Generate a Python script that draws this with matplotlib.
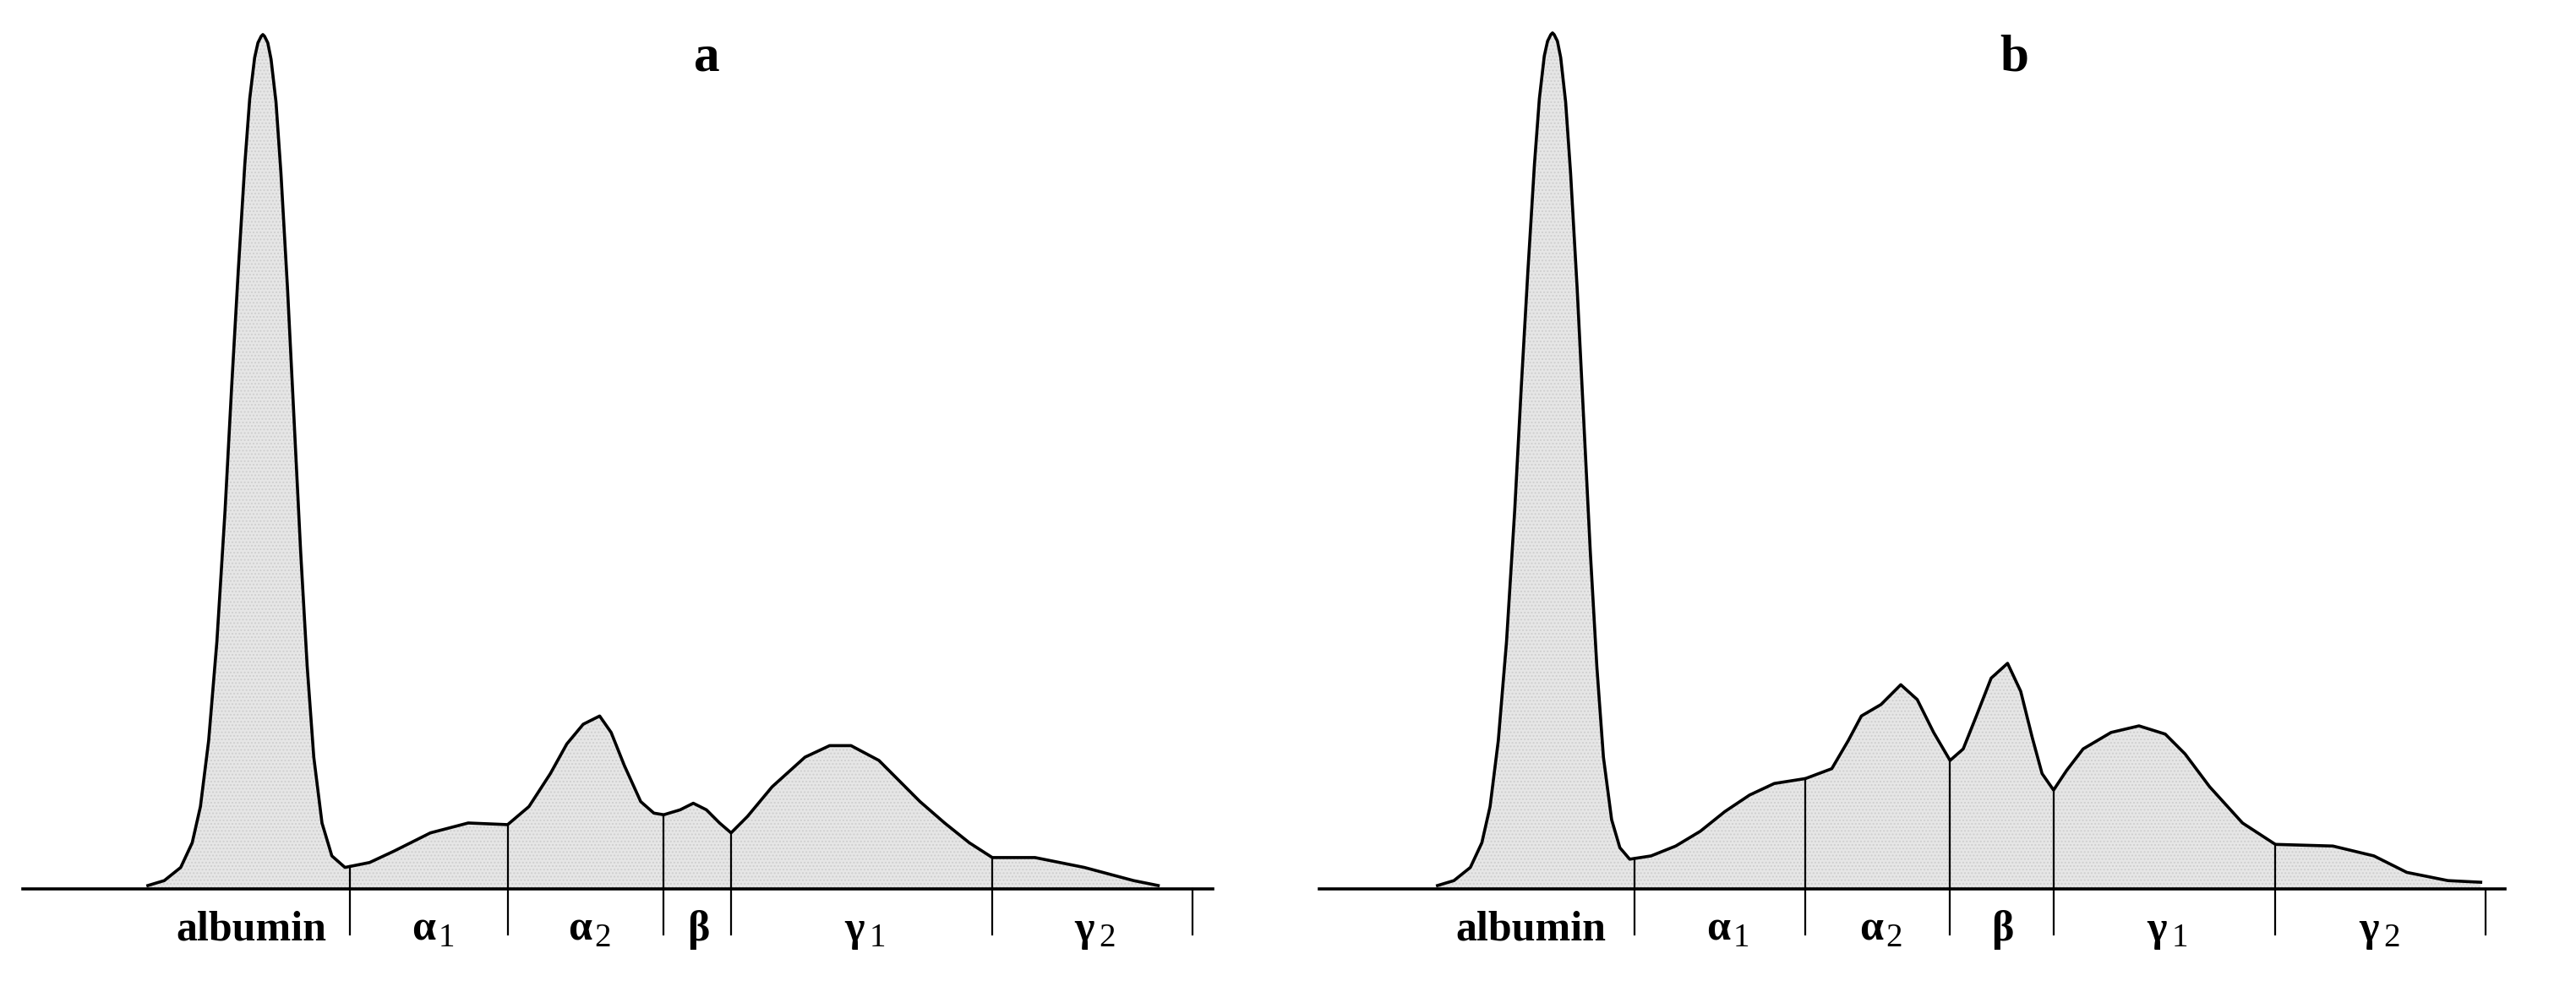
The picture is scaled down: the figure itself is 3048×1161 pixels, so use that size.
import matplotlib.pyplot as plt
import numpy as np

# densitometry traces (x, y in picture pixels, y grows downward)
a_x = [90, 100, 110, 117, 122, 127, 132, 137, 141, 145, 149, 152, 155, 157, 159, 160, 161,
       163, 165, 168, 171, 175, 179, 183, 187, 191, 196, 202, 210,
       225, 240, 262, 285, 309, 322, 335, 345, 355, 365, 372, 380, 390, 398, 404, 414, 422,
       430, 438, 445, 455, 470, 490, 505, 518, 535, 548, 560, 575, 590, 604, 630, 660, 690, 705]
a_y = [538, 535, 527, 512, 490, 450, 390, 310, 235, 165, 100, 60, 35, 26, 22, 21, 22,
       26, 36, 62, 105, 175, 255, 335, 405, 460, 500, 520, 527,
       524, 517, 506, 500, 501, 490, 470, 452, 440, 435, 445, 465, 487, 494, 495, 492, 488,
       492, 500, 506, 496, 478, 460, 453, 453, 462, 475, 487, 500, 512, 521, 521, 527, 535, 538]
b_x = [875, 885, 895, 902, 907, 912, 917, 922, 926, 930, 934, 937, 940, 942, 944, 945, 946,
       948, 950, 953, 956, 960, 964, 968, 972, 976, 981, 986, 992,
       1005, 1020, 1035, 1050, 1065, 1080, 1099, 1115, 1125, 1133, 1145, 1157, 1167, 1177,
       1187, 1195, 1203, 1212, 1222, 1230, 1237, 1243, 1250, 1258, 1268, 1285, 1302, 1318,
       1330, 1345, 1365, 1385, 1420, 1445, 1465, 1490, 1510]
b_y = [538, 535, 527, 512, 490, 450, 390, 310, 235, 165, 100, 60, 34, 25, 21, 20, 21,
       25, 35, 62, 105, 175, 255, 335, 405, 460, 498, 515, 522,
       520, 514, 505, 493, 483, 476, 473, 467, 450, 435, 428, 416, 425, 445,
       462, 455, 435, 412, 403, 420, 448, 470, 480, 468, 455, 445, 441, 446,
       458, 478, 500, 513, 514, 520, 530, 535, 536]

a_bounds = [213, 309, 404, 445, 604, 726]
b_bounds = [995, 1099, 1187, 1250, 1385, 1513]
names = ["albumin", "α", "α", "β", "γ", "γ"]
subs = ["", "1", "2", "", "1", "2"]
a_label_x = [153, 258, 353, 425, 520, 660]
b_label_x = [932, 1046, 1139, 1219, 1313, 1442]

W, H = 1568, 596
base = 540
fig = plt.figure(figsize=(30.48, 11.61), dpi=100)
ax = fig.add_axes([0, 0, 1, 1])
ax.set_xlim(0, W)
ax.set_ylim(H, 0)
ax.axis("off")

serif = ["Liberation Serif", "DejaVu Serif"]

def panel(xs, ys, bounds, lab_x, x0, x1, title, tx):
    ax.fill_between(xs, ys, base, color="#e6e6e6", lw=0, hatch="....", edgecolor="#cfcfcf")
    ax.plot(xs, ys, color="black", lw=2.6, solid_joinstyle="round")
    ax.plot([x0, x1], [base, base], color="black", lw=2.6)
    for b in bounds:
        top = np.interp(b, xs, ys) if xs[0] <= b <= xs[-1] else base
        ax.plot([b, b], [top, base + 28], color="black", lw=1.6)
    for lx, n, s in zip(lab_x, names, subs):
        ax.text(lx, 565, n, ha="center", va="center", fontsize=36,
                fontweight="bold", family=serif)
        if s:
            ax.text(lx + 9, 570, s, ha="left", va="center", fontsize=28,
                    family=serif)
    ax.text(tx, 35, title, ha="center", va="center", fontsize=44,
            fontweight="bold", family=serif)

panel(a_x, a_y, a_bounds, a_label_x, 14, 738, "a", 430)
panel(b_x, b_y, b_bounds, b_label_x, 803, 1525, "b", 1226)

fig.savefig("out.png", dpi=100, facecolor="white")
